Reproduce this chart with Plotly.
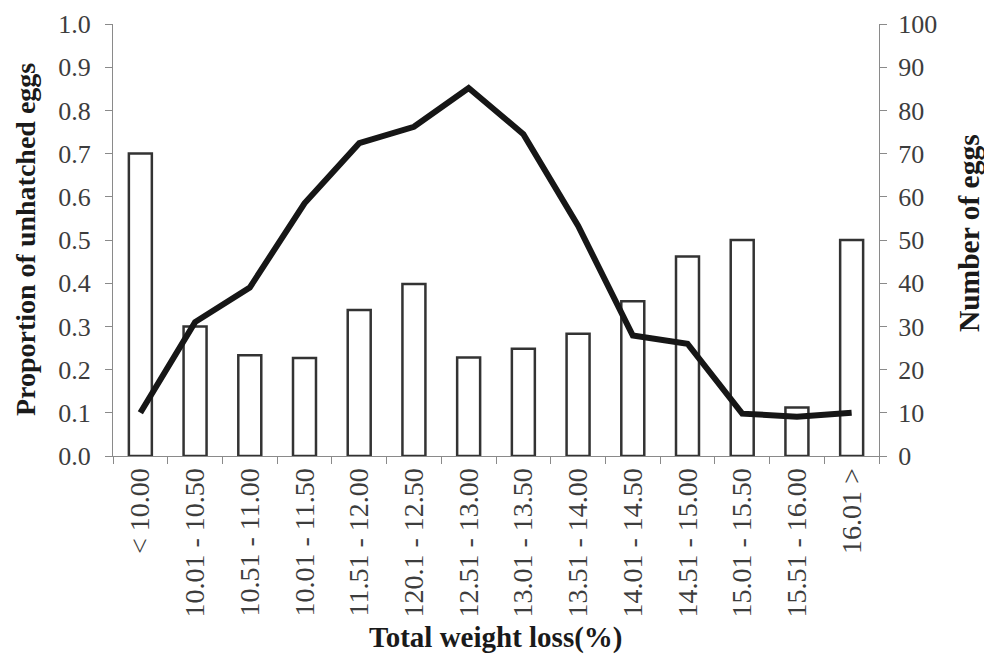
import plotly.graph_objects as go

categories = ["< 10.00", "10.01 - 10.50", "10.51 - 11.00", "10.01 - 11.50", "11.51 - 12.00",
              "120.1 - 12.50", "12.51 - 13.00", "13.01 - 13.50", "13.51 - 14.00", "14.01 - 14.50",
              "14.51 - 15.00", "15.01 - 15.50", "15.51 - 16.00", "16.01 >"]
number_of_eggs = [70, 30, 23.3, 22.7, 33.8, 39.8, 22.8, 24.8, 28.3, 35.8, 46.2, 50, 11.2, 50]
prop_unhatched = [0.10, 0.31, 0.39, 0.585, 0.724, 0.762, 0.852, 0.745, 0.533, 0.279, 0.26, 0.098, 0.091, 0.10]

FONT = "Liberation Serif"
TICKC = "#3d3d3d"
AXC = "#8a8a8a"

fig = go.Figure()
fig.add_trace(go.Bar(x=categories, y=number_of_eggs, yaxis="y",
                     marker=dict(color="white", line=dict(color="#333333", width=2.5)),
                     showlegend=False))
fig.add_trace(go.Scatter(x=categories, y=prop_unhatched, yaxis="y2", mode="lines",
                         line=dict(color="#161616", width=6), showlegend=False))

fig.update_layout(
    width=976, height=649,
    margin=dict(l=105, r=105, t=16, b=201),
    paper_bgcolor="white", plot_bgcolor="white",
    bargap=0.58,
    font=dict(family=FONT, color=TICKC),
    xaxis=dict(type="category", tickson="boundaries", ticks="outside", ticklen=7,
               tickcolor=AXC, showline=True, linecolor=AXC, linewidth=1,
               tickangle=-90, tickfont=dict(family=FONT, size=28, color=TICKC),
               showgrid=False, zeroline=False, automargin=False),
    yaxis=dict(side="right", range=[0, 100], dtick=10, ticks="outside", ticklen=7,
               tickcolor=AXC, showline=True, linecolor=AXC, linewidth=1,
               tickfont=dict(family=FONT, size=26, color=TICKC), ticklabelstandoff=6,
               showgrid=False, zeroline=False, automargin=False),
    yaxis2=dict(side="left", overlaying="y", range=[0, 1], dtick=0.1, tickformat=".1f",
                ticks="outside", ticklen=7, tickcolor=AXC, showline=True, linecolor=AXC,
                linewidth=1, tickfont=dict(family=FONT, size=26, color=TICKC),
                ticklabelstandoff=9, showgrid=False, zeroline=False, automargin=False),
    annotations=[
        dict(text="<b>Total weight loss(%)</b>", xref="paper", yref="paper", x=0.5, y=-0.419,
             xanchor="center", yanchor="middle", showarrow=False,
             font=dict(family=FONT, size=29, color="#1a1a1a")),
        dict(text="<b>Proportion of unhatched eggs</b>", xref="paper", yref="paper", x=-0.1149, y=0.502,
             xanchor="center", yanchor="middle", showarrow=False, textangle=-90,
             font=dict(family=FONT, size=28, color="#1a1a1a")),
        dict(text="<b>Number of eggs</b>", xref="paper", yref="paper", x=1.1175, y=0.516,
             xanchor="center", yanchor="middle", showarrow=False, textangle=-90,
             font=dict(family=FONT, size=29.5, color="#1a1a1a")),
    ],
)

fig.write_html("out.html")
